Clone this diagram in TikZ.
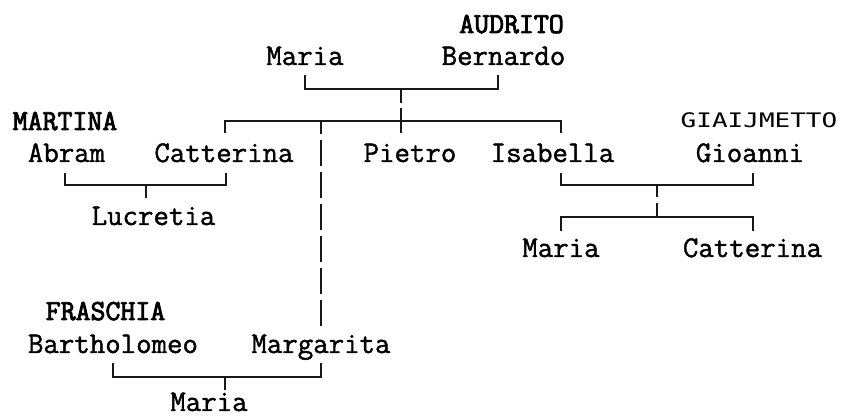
\documentclass[tikz,border=0pt]{standalone}
\usepackage{fontspec}
\newfontfamily\namemono[FakeBold=1.4]{Latin Modern Mono}
\newfontfamily\surmono[FakeBold=3]{Latin Modern Mono}
\newfontfamily\sansmono{DejaVu Sans Mono}
\begin{document}
\begin{tikzpicture}[x=1pt,y=-1pt,
  person/.style={font=\namemono\fontsize{30}{30}\selectfont, inner sep=0pt, anchor=base, text=black},
  surname/.style={font=\surmono\fontsize{29}{29}\selectfont, inner sep=0pt, anchor=base, text=black},
  surname2/.style={font=\sansmono\fontsize{20}{20}\selectfont, inner sep=0pt, anchor=base, text=black},
  link/.style={line width=1.3pt, draw=black!90},
  gapline/.style={link, dash pattern=on 26pt off 6pt, dash phase=13pt}]
\useasboundingbox (0,0) rectangle (841,419);
% names
\node[surname] (audrito) at (511.5,33) {AUDRITO};
\node[person] (maria1) at (305,65) {Maria};
\node[person] (bernardo) at (503.5,65) {Bernardo};
\node[surname] (martina) at (65,130) {MARTINA};
\node[surname2] (giaij) at (759,128) {\scalebox{1.3}[1]{GIAIJMETTO}};
\node[person] (abram) at (66.5,162) {Abram};
\node[person] (catterina1) at (224,162) {Catterina};
\node[person] (pietro) at (410,162) {Pietro};
\node[person] (isabella) at (552.5,162) {Isabella};
\node[person] (gioanni) at (750,162) {Gioanni};
\node[person] (lucretia) at (153.5,225) {Lucretia};
\node[person] (maria2) at (561,257) {Maria};
\node[person] (catterina2) at (752.5,257) {Catterina};
\node[surname] (fraschia) at (105.5,320) {FRASCHIA};
\node[person] (bartholomeo) at (113,353) {Bartholomeo};
\node[person] (margarita) at (321,353) {Margarita};
\node[person] (maria3) at (209,411) {Maria};
% junction coordinates
\coordinate (mA) at (305,75); \coordinate (mB) at (305,89);
\coordinate (bA) at (498,75); \coordinate (bB) at (498,89);
\coordinate (s1a) at (401,89); \coordinate (s1b) at (401,103);
\coordinate (s1c) at (401,108); \coordinate (s1d) at (401,133);
\coordinate (cA) at (225,133); \coordinate (cB) at (225,121);
\coordinate (iA) at (561,133); \coordinate (iB) at (561,121);
\coordinate (gA) at (321,121); \coordinate (gB) at (321,326);
\coordinate (gC) at (321,363); \coordinate (gD) at (321,377);
\coordinate (aA) at (65,173); \coordinate (aB) at (65,185);
\coordinate (ctA) at (226,173); \coordinate (ctB) at (226,185);
\coordinate (lA) at (146,185); \coordinate (lB) at (146,198);
\coordinate (isA) at (561,173); \coordinate (isB) at (561,185);
\coordinate (giA) at (753,173); \coordinate (giB) at (753,185);
\coordinate (s2a) at (657,185); \coordinate (s2b) at (657,197);
\coordinate (s2c) at (657,203); \coordinate (s2d) at (657,217);
\coordinate (k1A) at (561,231); \coordinate (k1B) at (561,217);
\coordinate (k2A) at (753,231); \coordinate (k2B) at (753,217);
\coordinate (brA) at (113,363); \coordinate (brB) at (113,377);
\coordinate (s3a) at (225,377); \coordinate (s3b) at (225,390);
% connectors
\draw[link] (mA) -- (mB) -- (bB) -- (bA);
\draw[link] (s1a) -- (s1b);
\draw[link] (s1c) -- (s1d);
\draw[link] (cA) -- (cB) -- (iB) -- (iA);
\draw[gapline] (gA) -- (gB);
\draw[link] (aA) -- (aB) -- (ctB) -- (ctA);
\draw[link] (lA) -- (lB);
\draw[link] (isA) -- (isB) -- (giB) -- (giA);
\draw[link] (s2a) -- (s2b);
\draw[link] (s2c) -- (s2d);
\draw[link] (k1A) -- (k1B) -- (k2B) -- (k2A);
\draw[link] (brA) -- (brB) -- (gD) -- (gC);
\draw[link] (s3a) -- (s3b);
\end{tikzpicture}
\end{document}
